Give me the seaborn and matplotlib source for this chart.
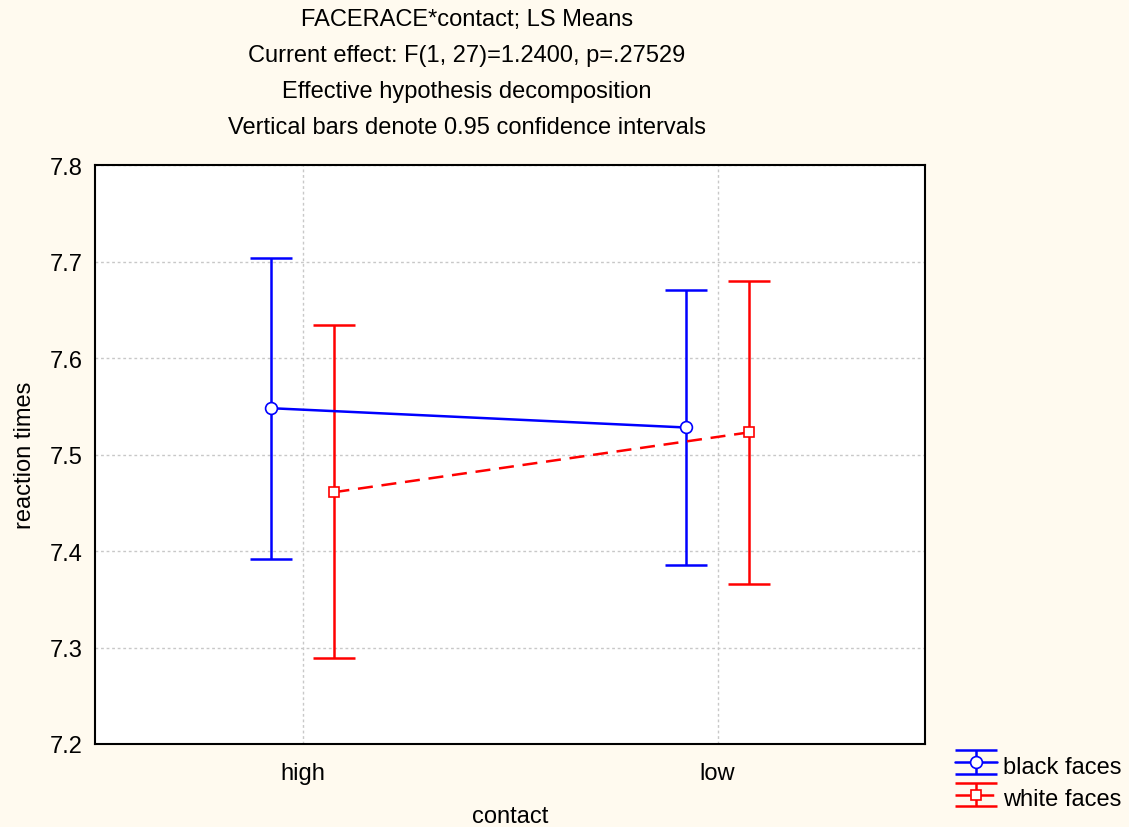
import numpy as np
import pandas as pd
import matplotlib
matplotlib.use("Agg")
import matplotlib.pyplot as plt
import seaborn as sns

# LS means and 95% confidence limits of reaction times
contact_levels = ["high", "low"]
groups = ["black faces", "white faces"]
black_means = [7.548, 7.528]
black_lower = [7.392, 7.385]
black_upper = [7.704, 7.670]
white_means = [7.461, 7.523]
white_lower = [7.289, 7.366]
white_upper = [7.634, 7.680]

title_lines = [
    "FACERACE*contact; LS Means",
    "Current effect: F(1, 27)=1.2400, p=.27529",
    "Effective hypothesis decomposition",
    "Vertical bars denote 0.95 confidence intervals",
]

sns.set_style("white")
plt.rcParams["font.family"] = ["Liberation Sans", "DejaVu Sans"]
plt.rcParams["text.color"] = "black"
plt.rcParams["axes.labelcolor"] = "black"

bg = "#FFFAEF"
colors = {"black faces": "#0000FF", "white faces": "#FF0000"}
markers = {"black faces": "o", "white faces": "s"}
dashes = {"black faces": "", "white faces": (6, 3.5)}
offsets = {"black faces": -0.077, "white faces": 0.077}

stats = {
    "black faces": (black_means, black_lower, black_upper),
    "white faces": (white_means, white_lower, white_upper),
}

rows = []
for g in groups:
    m, lo, hi = stats[g]
    for i, lvl in enumerate(contact_levels):
        rows.append({"group": g, "contact": lvl, "pos": i + offsets[g],
                     "mean": m[i], "lower": lo[i], "upper": hi[i]})
df = pd.DataFrame(rows)

fig = plt.figure(figsize=(11.29, 8.28), dpi=100, facecolor=bg)
ax = fig.add_axes([95 / 1129, 1 - 745 / 828, 830 / 1129, 579 / 828])
ax.set_facecolor("white")

# confidence interval bars
containers = {}
for g in groups:
    sub = df[df["group"] == g]
    yerr = np.vstack([sub["mean"] - sub["lower"], sub["upper"] - sub["mean"]])
    containers[g] = ax.errorbar(sub["pos"], sub["mean"], yerr=yerr, fmt="none",
                                ecolor=colors[g], elinewidth=1.8, capsize=15,
                                capthick=1.8, zorder=3)

# mean profiles
sns.lineplot(data=df, x="pos", y="mean", hue="group", style="group",
             palette=colors, markers=markers, dashes=dashes, linewidth=1.8,
             markersize=8.5, ax=ax, legend=False, zorder=4, sort=False)
mean_lines = {}
for line, g in zip(ax.lines[-len(groups):], groups):
    line.set_markerfacecolor("white")
    line.set_markeredgecolor(colors[g])
    line.set_markeredgewidth(1.2)
    mean_lines[g] = line
mean_lines["white faces"].set_markersize(7.5)

ax.set_xlim(-0.5, 1.5)
ax.set_ylim(7.2, 7.8)
ax.set_xticks(range(len(contact_levels)))
ax.set_xticklabels(contact_levels)
ax.set_yticks(np.arange(7.2, 7.81, 0.1))
ax.set_yticklabels([f"{v:.1f}" for v in np.arange(7.2, 7.81, 0.1)])
ax.tick_params(axis="both", direction="in", length=4, width=1, labelsize=17,
               colors="black", pad=9)
ax.tick_params(axis="x", pad=13)
ax.grid(True, color="#c8c8c8", linestyle=(0, (2, 2)), linewidth=1)
for s in ax.spines.values():
    s.set_color("black")
    s.set_linewidth(1.5)

ax.set_xlabel("contact", fontsize=17, labelpad=15)
ax.set_ylabel("reaction times", fontsize=17, labelpad=10)

title_y = [20, 56, 92, 128]
for txt, y in zip(title_lines, title_y):
    fig.text(467 / 1129, 1 - y / 828, txt, ha="center", va="center", fontsize=17)

handles = [(containers[g], mean_lines[g]) for g in groups]
leg = fig.legend(handles, groups, loc="upper left",
                 bbox_to_anchor=(938 / 1129, 1 - 736 / 828), frameon=False,
                 fontsize=17, handlelength=1.8, handleheight=1.35,
                 handletextpad=0.25, labelspacing=0.25, borderpad=0.2)

fig.savefig("out.png", dpi=100, facecolor=bg)
